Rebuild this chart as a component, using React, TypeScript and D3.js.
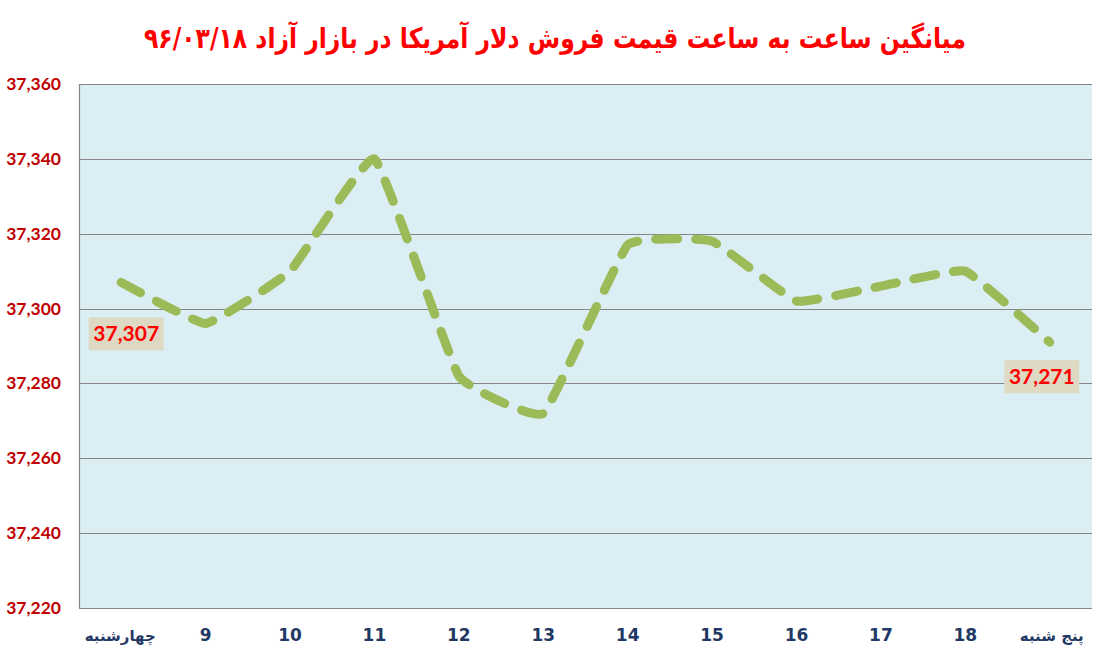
import { useEffect, useRef } from 'react'
import * as d3 from 'd3'

const title = 'میانگین ساعت به ساعت قیمت فروش دلار آمریکا در بازار آزاد ۹۶/۰۳/۱۸'

const categories = ['چهارشنبه', '9', '10', '11', '12', '13', '14', '15', '16', '17', '18', 'پنج شنبه']
const prices = [37307, 37296, 37310, 37340, 37282, 37272, 37317, 37318, 37302, 37306, 37310, 37291]
const yTicks = [37220, 37240, 37260, 37280, 37300, 37320, 37340, 37360]

// callout labels on the first and last point
const callouts = [
  { index: 0, text: '37,307', dx: 5, dy: 51 },
  { index: 11, text: '37,271', dx: -8, dy: 34 },
]

export default function App() {
  const svgRef = useRef<SVGSVGElement>(null)

  useEffect(() => {
    if (!svgRef.current) return
    const svg = d3.select(svgRef.current)
    svg.selectAll('*').remove()

    const W = 1102
    const H = 657
    const margin = { top: 84, right: 10, bottom: 49, left: 79 }

    svg.attr('width', W).attr('height', H)

    const x = d3.scaleBand<string>()
      .domain(categories)
      .range([margin.left, W - margin.right])

    const y = d3.scaleLinear()
      .domain([37220, 37360])
      .range([H - margin.bottom, margin.top])

    // plot background
    svg.append('rect')
      .attr('x', margin.left)
      .attr('y', margin.top)
      .attr('width', W - margin.right - margin.left)
      .attr('height', H - margin.bottom - margin.top)
      .style('fill', '#dbeef3')

    // gridlines
    svg.append('g')
      .selectAll('line')
      .data(yTicks)
      .enter()
      .append('line')
      .attr('x1', margin.left)
      .attr('x2', W - margin.right)
      .attr('y1', d => Math.round(y(d)) + 0.5)
      .attr('y2', d => Math.round(y(d)) + 0.5)
      .style('stroke', '#868686')
      .style('stroke-width', '1.2px')

    // left axis line
    svg.append('line')
      .attr('x1', margin.left + 0.5)
      .attr('x2', margin.left + 0.5)
      .attr('y1', margin.top)
      .attr('y2', H - margin.bottom)
      .style('stroke', '#868686')
      .style('stroke-width', '1.2px')

    // y tick labels
    svg.append('g')
      .selectAll('text')
      .data(yTicks)
      .enter()
      .append('text')
      .attr('x', 61)
      .attr('y', d => y(d) + 6)
      .style('text-anchor', 'end')
      .style('font-family', 'Lato, "Open Sans", sans-serif')
      .style('font-weight', '700')
      .style('font-size', '17.5px')
      .style('fill', '#c00000')
      .text(d => d3.format(',')(d))

    // x labels
    svg.append('g')
      .selectAll('text')
      .data(categories)
      .enter()
      .append('text')
      .attr('x', (d, i) => x(d)! + x.bandwidth() / 2 + (i === 11 ? 2 : i === 0 ? -1 : 0))
      .attr('y', 641)
      .style('text-anchor', 'middle')
      .style('font-family', '"DejaVu Sans", Lato, sans-serif')
      .style('font-weight', '700')
      .style('font-size', (d, i) => (i === 0 || i === 11 ? '15px' : '17px'))
      .style('fill', '#1f3864')
      .text(d => d)

    // line
    const line = d3.line<number>()
      .x((d, i) => x(categories[i])! + x.bandwidth() / 2)
      .y(d => y(d))
      .curve(d3.curveCardinal.tension(0.7))

    svg.append('path')
      .datum(prices)
      .attr('d', line)
      .style('fill', 'none')
      .style('stroke', '#9bbb59')
      .style('stroke-width', '9px')
      .style('stroke-linecap', 'round')
      .style('stroke-dasharray', '22 18')

    // callouts
    callouts.forEach(c => {
      const cx = x(categories[c.index])! + x.bandwidth() / 2 + c.dx
      const cy = y(prices[c.index]) + c.dy
      const g = svg.append('g')
      g.append('rect')
        .attr('x', cx - 37.5)
        .attr('y', cy - 16)
        .attr('width', 75)
        .attr('height', 33)
        .style('fill', '#ddd9c3')
      g.append('text')
        .attr('x', cx)
        .attr('y', cy + 7.5)
        .style('text-anchor', 'middle')
        .style('font-family', 'Lato, "Open Sans", sans-serif')
        .style('font-weight', '700')
        .style('font-size', '21px')
        .style('fill', '#ff0000')
        .text(c.text)
    })

    // title
    svg.append('text')
      .attr('transform', 'translate(555,48) scale(1,1.2)')
      .attr('direction', 'rtl')
      .style('text-anchor', 'middle')
      .style('font-family', '"DejaVu Sans", sans-serif')
      .style('font-weight', '700')
      .style('font-size', '23.5px')
      .style('fill', '#ff0000')
      .text(title)
  }, [])

  return (
    <div style={{ position: 'absolute', left: 0, top: 0 }}>
      <svg ref={svgRef} style={{ display: 'block', background: '#fff' }}></svg>
    </div>
  )
}
